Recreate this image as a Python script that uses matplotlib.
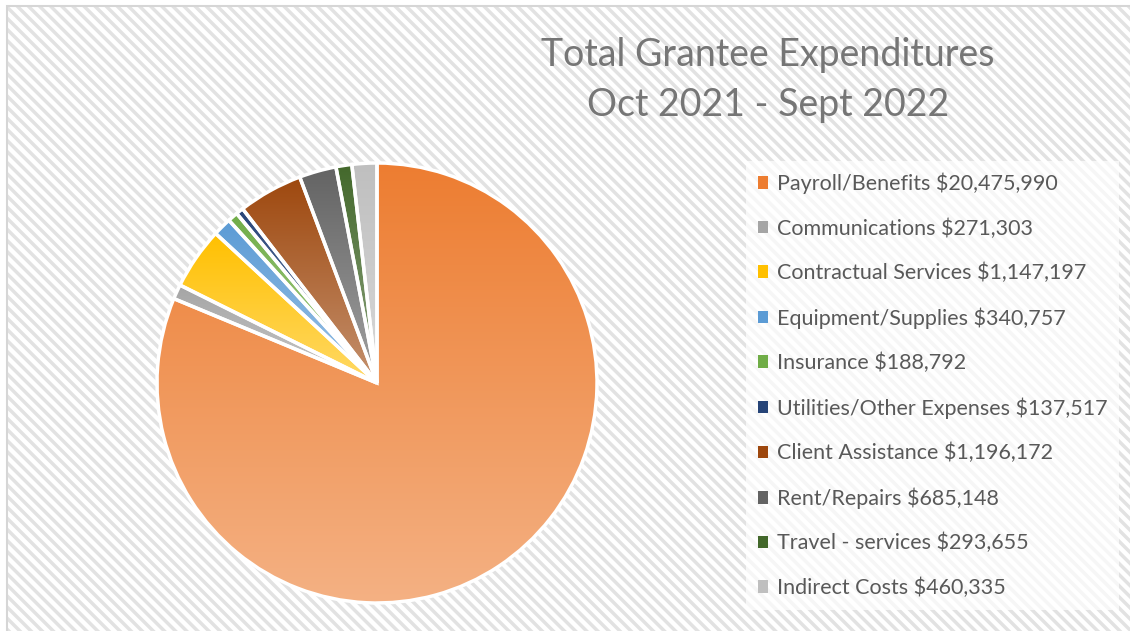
import numpy as np
import matplotlib
matplotlib.use('Agg')
import matplotlib.pyplot as plt
from matplotlib.patches import Patch, Rectangle
from matplotlib.colors import to_rgb

categories = ['Payroll/Benefits', 'Communications', 'Contractual Services',
              'Equipment/Supplies', 'Insurance', 'Utilities/Other Expenses',
              'Client Assistance', 'Rent/Repairs', 'Travel - services',
              'Indirect Costs']
amounts = [20475990, 271303, 1147197, 340757, 188792, 137517,
           1196172, 685148, 293655, 460335]
colors = ['#ED7D31', '#A5A5A5', '#FFC000', '#5B9BD5', '#70AD47',
          '#264478', '#9E480E', '#636363', '#43682B', '#BFBFBF']

plt.rcParams['font.family'] = ['Lato', 'DejaVu Sans']
plt.rcParams['hatch.linewidth'] = 2.5

W, H = 1130, 631
fig = plt.figure(figsize=(W / 100, H / 100), dpi=100)

# striped background + thin border (only top/left visible in the crop)
fig.patches.append(Rectangle((7 / W, -0.05), 1.1, 1.05 - 6 / H, transform=fig.transFigure,
                             facecolor='white', edgecolor='#e2e2e2', hatch='\\\\\\',
                             lw=0, zorder=-2))
fig.patches.append(Rectangle((7 / W, -0.05), 1.1, 1.05 - 6 / H, transform=fig.transFigure,
                             facecolor='none', edgecolor='#d6d6d6', lw=1.5, zorder=-1))

# pie
cx, cy, r = 377, 383, 220
pad = 1.03
ax = fig.add_axes([(cx - r * pad) / W, (H - cy - r * pad) / H, 2 * r * pad / W, 2 * r * pad / H])
ax.set_axis_off()
wedges, _ = ax.pie(amounts, colors=colors, startangle=90, counterclock=False, radius=1,
                   wedgeprops=dict(edgecolor='white', linewidth=2.5))

# vertical gradient inside each wedge, dark at top, lighter at bottom
for w, c in zip(wedges, colors):
    path = w.get_path().transformed(w.get_patch_transform())
    x0, y0, x1, y1 = path.get_extents().extents
    top = np.array(to_rgb(c))
    bottom = top + (1 - top) * 0.4
    grad = np.linspace(top, bottom, 256)[:, None, :]
    im = ax.imshow(grad, extent=(x0, x1, y0, y1), aspect='auto', origin='upper',
                   zorder=1, interpolation='bilinear')
    im.set_clip_path(w)
    w.set_facecolor('none')
    w.set_zorder(2)

ax.set_xlim(-pad, pad)
ax.set_ylim(-pad, pad)

fig.text(768 / W, 1 - 80 / H, 'Total Grantee Expenditures\nOct 2021 - Sept 2022',
         ha='center', va='center', fontsize=27, color='#767676', linespacing=1.5)

handles = [Patch(facecolor=c, edgecolor='none') for c in colors]
labels = [f'{n} ${v:,}' for n, v in zip(categories, amounts)]
leg = fig.legend(handles, labels, loc='upper left', bbox_to_anchor=(735 / W, 1 - 150 / H),
                 frameon=True, fontsize=15.5, handlelength=0.5, handleheight=0.5,
                 handletextpad=0.4, labelspacing=1.12, borderpad=0.55, fancybox=False)
leg.get_frame().set_facecolor('white')
leg.get_frame().set_alpha(0.7)
leg.get_frame().set_edgecolor('none')
for t in leg.get_texts():
    t.set_color('#595959')

fig.savefig('out.png', dpi=100)
